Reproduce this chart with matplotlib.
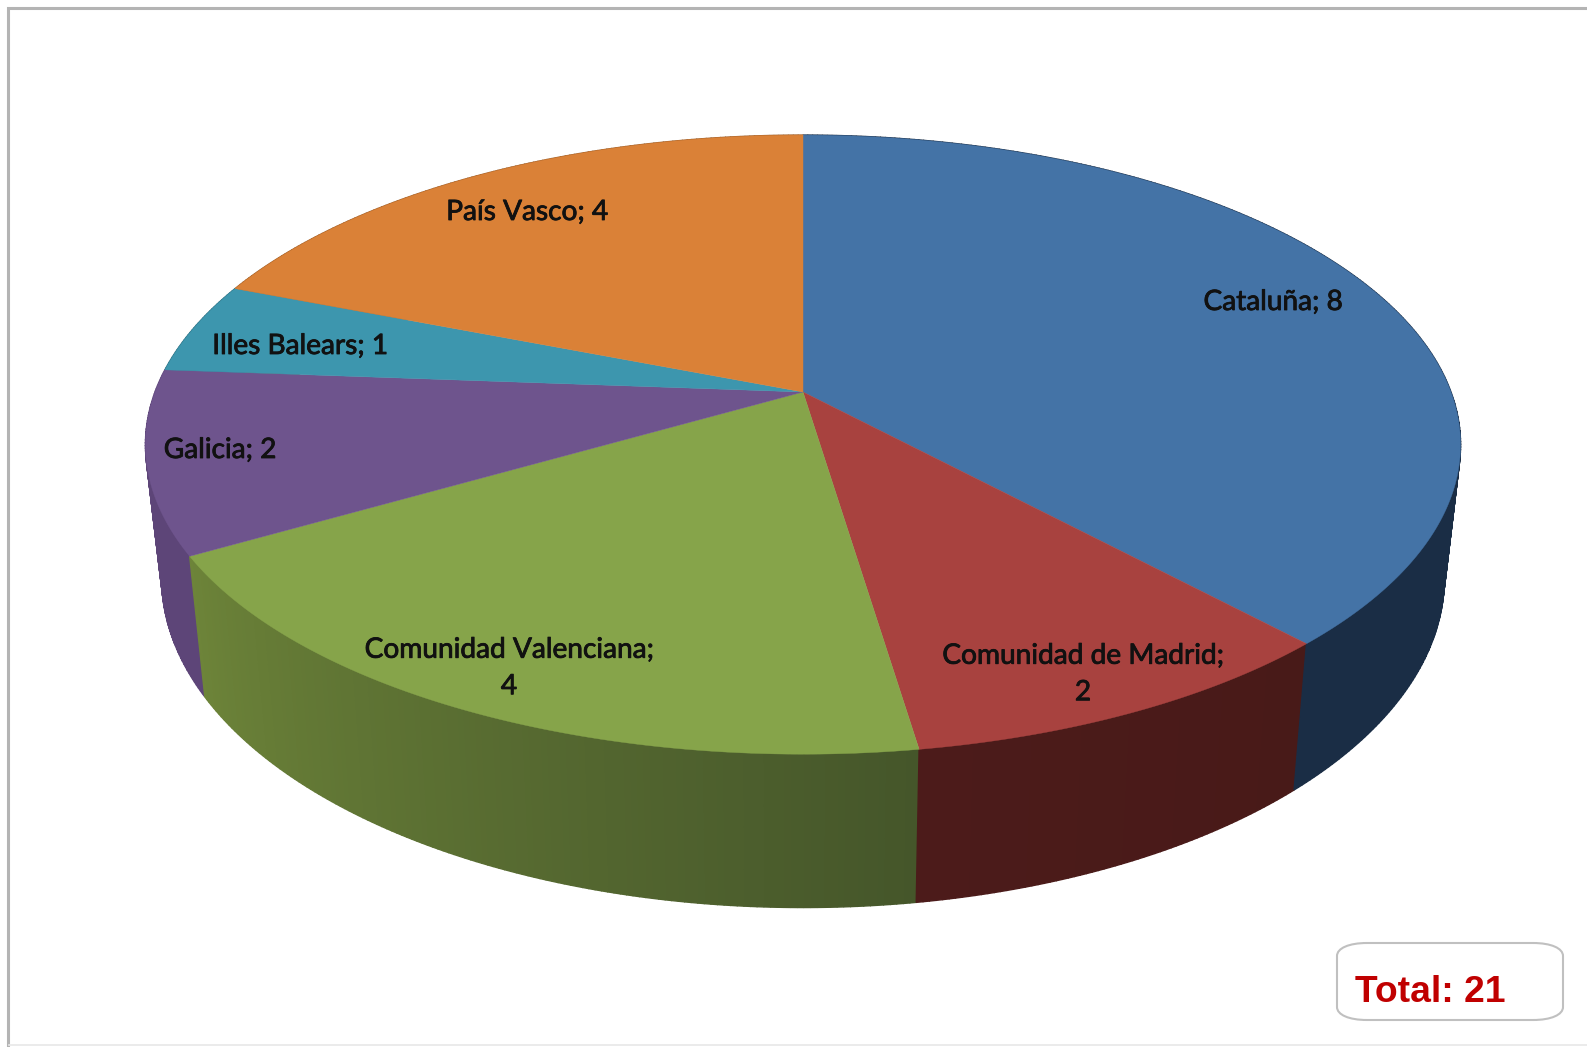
import numpy as np
import matplotlib
matplotlib.use('Agg')
import matplotlib.pyplot as plt
import matplotlib.patheffects as pe
from matplotlib.patches import PathPatch
from matplotlib.path import Path
from matplotlib.colors import to_rgb

# clockwise from 12 o'clock
regions = ['Cataluña', 'Comunidad de Madrid', 'Comunidad Valenciana', 'Galicia', 'Illes Balears', 'País Vasco']
values = [8, 2, 4, 2, 1, 4]
total = 21

top_colors = ['#4473a6', '#a8423f', '#86a44a', '#6e548d', '#3d96ae', '#da8137']
side_left = ['#1a2d45', '#4c1b1a', '#6d8439', '#5d4578', '#2b6b7c', '#9c5c26']
side_right = ['#1a2d45', '#481a18', '#45562a', '#5d4578', '#2b6b7c', '#9c5c26']

# text layout, pixels
label_text = ['Cataluña; 8', 'Comunidad de Madrid;\n2', 'Comunidad Valenciana;\n4',
              'Galicia; 2', 'Illes Balears; 1', 'País Vasco; 4']
label_xy = [(1273, 302), (1083, 674), (509, 668), (220, 450), (300, 346), (527, 212)]

W, H = 1587, 1047
fig = plt.figure(figsize=(W/100, H/100), dpi=100)
ax = fig.add_axes([0, 0, 1, 1])
ax.set_xlim(0, W)
ax.set_ylim(H, 0)
ax.axis('off')

# perspective of the pie plane
k = 0.17
cx = 803.0


def project(ang, r, a, b, y0):
    x = r*np.sin(ang)
    y = r*np.cos(ang)
    w = 1 + k*y
    return cx + a*x/w, y0 - b*y/w


def top_rim(ang, r=1.0):
    return project(ang, r, 648.0, 300.6, 392.0)


def low_rim(ang):
    return project(ang, 1.0, 632.0, 320.0, 522.0)


edges = np.cumsum([0] + values)/float(sum(values))*2*np.pi

# sides first, then the top hides the back part
for i in range(len(values)):
    n = max(int((edges[i+1]-edges[i])/np.radians(0.5)), 2)
    tt = np.linspace(edges[i], edges[i+1], n+1)
    c1 = np.array(to_rgb(side_right[i]))
    c2 = np.array(to_rgb(side_left[i]))
    for j in range(n):
        f = j/float(n)
        col = c1*(1-f) + c2*f
        x1, y1 = top_rim(tt[j])
        x2, y2 = top_rim(tt[j+1])
        x3, y3 = low_rim(tt[j+1])
        x4, y4 = low_rim(tt[j])
        ax.fill([x1, x2, x3, x4], [y1, y2, y3, y4], color=col, lw=1.0, zorder=2+j*1e-4)

for i in range(len(values)):
    tt = np.linspace(edges[i], edges[i+1], 200)
    xs, ys = top_rim(tt)
    ax.fill(np.r_[cx, xs], np.r_[392.0, ys], color=top_colors[i], lw=0.3, zorder=3)

for t, (x, y) in zip(label_text, label_xy):
    txt = ax.text(x, y, t, ha='center', va='center', family='Lato', fontsize=20.2,
                  color='#111111', linespacing=1.5, zorder=4)
    txt.set_path_effects([pe.withStroke(linewidth=0.6, foreground='#111111')])

# frame of the picture
ax.plot([8, 8, W], [H, 8, 8], color='#b4b4b4', lw=2.2, solid_joinstyle='miter', zorder=1)
ax.plot([9, W], [1045, 1045], color='#e8e8e8', lw=1.2, zorder=1)

# note box with wide flat corners
x0, x1, y0, y1 = 1337.0, 1563.0, 943.0, 1020.0
rx, ry = 30.0, 13.0
verts = [(x0+rx, y0), (x1-rx, y0), (x1-rx*0.4, y0), (x1, y0+ry*0.4), (x1, y0+ry),
         (x1, y1-ry), (x1, y1-ry*0.4), (x1-rx*0.4, y1), (x1-rx, y1),
         (x0+rx, y1), (x0+rx*0.4, y1), (x0, y1-ry*0.4), (x0, y1-ry),
         (x0, y0+ry), (x0, y0+ry*0.4), (x0+rx*0.4, y0), (x0+rx, y0)]
codes = [Path.MOVETO, Path.LINETO, Path.CURVE4, Path.CURVE4, Path.CURVE4,
         Path.LINETO, Path.CURVE4, Path.CURVE4, Path.CURVE4,
         Path.LINETO, Path.CURVE4, Path.CURVE4, Path.CURVE4,
         Path.LINETO, Path.CURVE4, Path.CURVE4, Path.CURVE4]
ax.add_patch(PathPatch(Path(verts, codes), fc='white', ec='#c0c0c0', lw=1.5, zorder=4))
ax.text(1355, 1002, 'Total: %d' % total, ha='left', va='baseline', family='Liberation Sans',
        fontweight='bold', fontsize=26.8, color='#c00000', zorder=5)

fig.savefig('out.png', dpi=100)
